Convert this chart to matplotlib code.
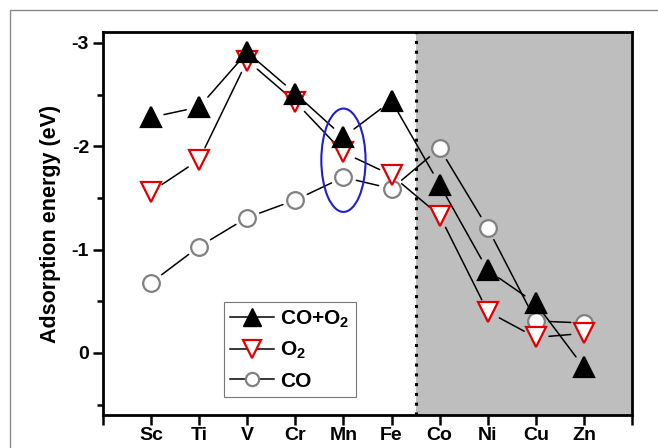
import matplotlib
matplotlib.use("Agg")
import matplotlib.pyplot as plt
from matplotlib.lines import Line2D
from matplotlib.patches import Ellipse, Rectangle

plt.rcParams['font.family'] = ['Liberation Sans', 'DejaVu Sans']
plt.rcParams['font.weight'] = 'bold'
plt.rcParams['mathtext.fontset'] = 'custom'
plt.rcParams['mathtext.rm'] = 'Liberation Sans:bold'
plt.rcParams['mathtext.default'] = 'rm'

metals = ['Sc', 'Ti', 'V', 'Cr', 'Mn', 'Fe', 'Co', 'Ni', 'Cu', 'Zn']
co_o2 = [-2.28, -2.38, -2.91, -2.51, -2.09, -2.44, -1.63, -0.80, -0.48, 0.14]
o2 = [-1.56, -1.87, -2.83, -2.43, -1.94, -1.72, -1.33, -0.40, -0.15, -0.19]
co = [-0.68, -1.03, -1.31, -1.48, -1.70, -1.59, -1.98, -1.21, -0.31, -0.29]
legend_labels = ['CO+O$_2$', 'O$_2$', 'CO']

fig = plt.figure(figsize=(6.58, 4.48), dpi=100)
ax = fig.add_axes([0.1565, 0.0737, 0.9605 - 0.1565, 0.9286 - 0.0737])

# outer frame
fig.patches.append(Rectangle((10 / 658, -0.1), 1.2, (448 - 10) / 448 + 0.1,
                             transform=fig.transFigure, fill=False,
                             edgecolor='#888888', linewidth=1.0))

x = list(range(1, len(metals) + 1))

ax.axvspan(6.5, 11, color='#bebebe', zorder=0, linewidth=0)
ax.axvline(6.5, color='black', linestyle=(0, (1, 2.2)), linewidth=2.2, zorder=1)


def draw_series(vals, marker, ms, mfc, mec):
    for i in range(len(vals) - 1):
        ax.annotate('', xy=(x[i + 1], vals[i + 1]), xytext=(x[i], vals[i]),
                    arrowprops=dict(arrowstyle='-', color='black', lw=1.1,
                                    shrinkA=9.5, shrinkB=9.5), zorder=2)
    ax.plot(x, vals, linestyle='none', marker=marker, ms=ms, mfc=mfc,
            mec=mec, mew=1.6, zorder=3)


draw_series(co, 'o', 12, 'white', '#808080')
draw_series(o2, 'v', 14, 'white', '#e00000')
draw_series(co_o2, '^', 14, 'black', 'black')

ax.add_patch(Ellipse((5, -1.865), 0.92, 1.0, fill=False, edgecolor='#1f1fcc',
                     linewidth=1.5, zorder=4))

ax.set_xlim(0, 11)
ax.set_ylim(0.6, -3.106)
ax.set_xticks(range(0, 12))
ax.set_xticklabels([''] + metals + [''])
ax.set_yticks([-3, -2, -1, 0])
ax.set_yticklabels(['-3', '-2', '-1', '0'])
ax.set_yticks([-2.5, -1.5, -0.5, 0.5], minor=True)
ax.tick_params(axis='both', which='major', direction='out', length=7, width=1.8,
               labelsize=14)
ax.tick_params(axis='y', which='minor', direction='out', length=4.5, width=1.8)
ax.tick_params(axis='x', pad=2)
ax.tick_params(axis='y', pad=3)
for s in ax.spines.values():
    s.set_linewidth(2.0)
ax.set_ylabel('Adsorption energy (eV)', fontsize=15.5, fontweight='bold', labelpad=8)

handles = [
    Line2D([], [], color='black', lw=1.1, marker='^', ms=13, mfc='black', mec='black'),
    Line2D([], [], color='black', lw=1.1, marker='v', ms=13, mfc='white', mec='#e00000', mew=1.6),
    Line2D([], [], color='black', lw=1.1, marker='o', ms=9.5, mfc='white', mec='#808080', mew=1.6),
]
leg = ax.legend(handles, legend_labels, loc='lower left',
                bbox_to_anchor=(0.229, 0.047), borderaxespad=0, fancybox=False,
                edgecolor='#777777', prop={'size': 15, 'weight': 'bold'},
                handlelength=2.1, handletextpad=0.3, labelspacing=0.5,
                borderpad=0.3, framealpha=1)
leg.get_frame().set_linewidth(0.8)
leg.set_zorder(5)

fig.savefig('out.png', dpi=100)
